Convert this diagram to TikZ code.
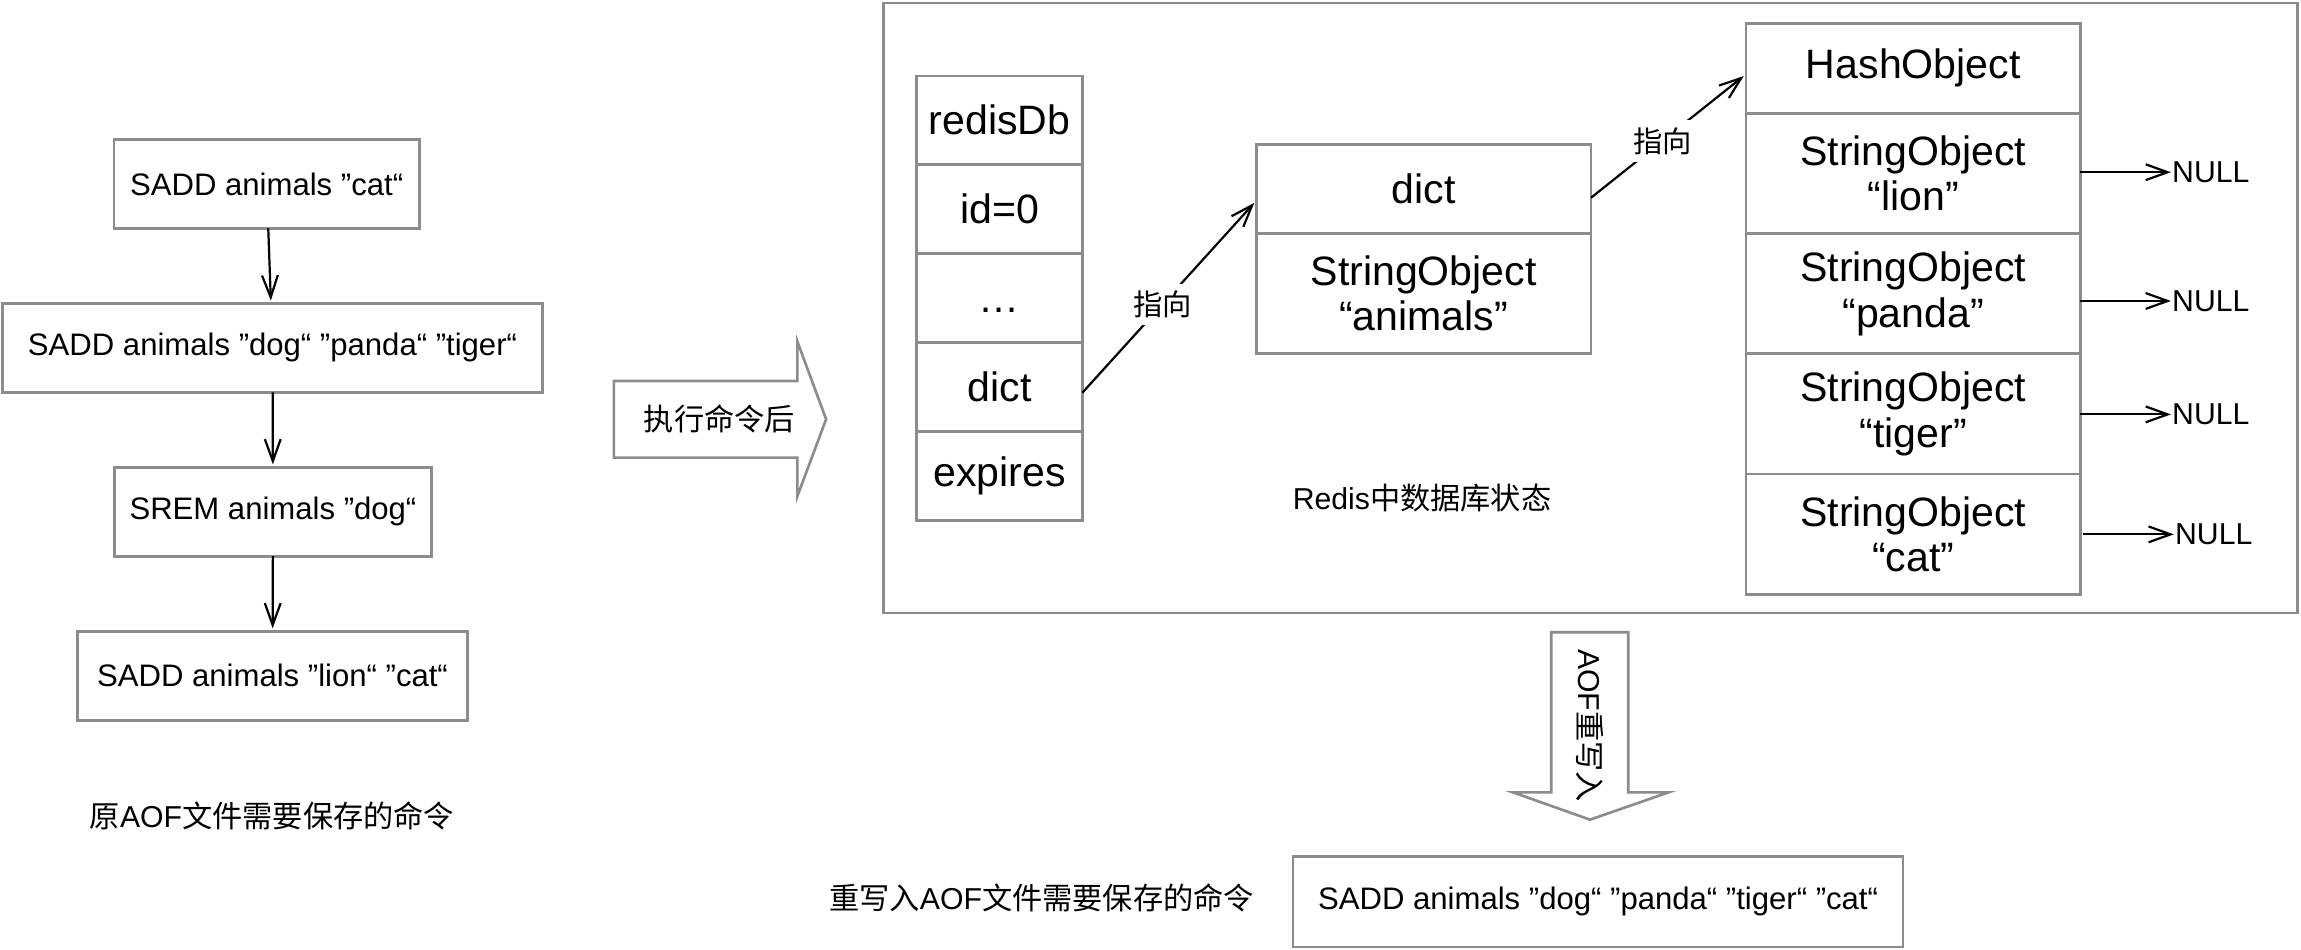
\documentclass[tikz,border=0pt]{standalone}
\usepackage{fontspec}
\setmainfont{Liberation Sans}
\newfontfamily\cjk{Noto Sans CJK SC}
\usetikzlibrary{arrows.meta}
\definecolor{boxgray}{RGB}{140,140,140}
\tikzset{every picture/.style={line width=0.9pt},
  cmdbox/.style={draw=boxgray, inner sep=0pt, outer sep=0pt, minimum height=30.3pt, font=\fontsize{10.6}{12}\selectfont},
  cellbox/.style={draw=boxgray, inner sep=0pt, outer sep=0pt, align=center, font=\fontsize{14}{15.5}\selectfont},
  caption/.style={inner sep=0pt, font=\fontsize{10.3}{12}\selectfont},
  ptr/.style={-{Straight Barb[length=7.5pt,width=5.4pt]}, line width=0.75pt, black},
  fatarrow/.style={draw=boxgray, fill=white}}

\begin{document}
\begin{tikzpicture}[x=0.5pt,y=0.5pt,yscale=-1,xscale=1]
\useasboundingbox (0,0) rectangle (1568.7,647);

%Shape: Rectangle (original AOF commands)
\node (cmdA) [cmdbox, minimum width=104pt] at (181.8,125.4) {SADD animals ”cat“};
\node (cmdB) [cmdbox, minimum width=184pt] at (185.8,237.2) {SADD animals ”dog“ ”panda“ ”tiger“};
\node (cmdC) [cmdbox, minimum width=108pt] at (186.1,348.9) {SREM animals ”dog“};
\node (cmdD) [cmdbox, minimum width=133pt] at (185.8,460.7) {SADD animals ”lion“ ”cat“};
%Straight Lines
\draw [ptr, shorten >=1pt] (cmdA) -- (cmdB);
\draw [ptr, shorten >=1pt] (cmdB) -- (cmdC);
\draw [ptr, shorten >=1pt] (cmdC) -- (cmdD);
% Text Node
\node (oldCap) [caption] at (185.4,556.5) {{\cjk 原}AOF{\cjk 文件需要保存的命令}};

%Shape: Right Arrow
\draw [fatarrow] (418.5,259.7) -- (543.6,259.7) -- (543.6,232.8) -- (563.2,285.8) -- (543.6,338.3) -- (543.6,312) -- (418.5,312) -- cycle;
% Text Node
\node (afterRun) [caption] at (490.4,285.8) {\cjk 执行命令后};

%Shape: Rectangle (database state frame)
\draw [draw=boxgray] (602.3,2) rectangle (1566.3,418);

%Shape: redisDb cells
\node (rdHead) [cellbox, minimum width=56.5pt, minimum height=30.3pt] at (681.4,82) {redisDb};
\node (rdId) [cellbox, minimum width=56.5pt, minimum height=30.3pt] at (681.4,142.6) {id=0};
\node (rdDots) [cellbox, minimum width=56.5pt, minimum height=30.3pt] at (681.4,203.2) {\vphantom{id}…};
\node (rdDict) [cellbox, minimum width=56.5pt, minimum height=30.3pt] at (681.4,263.8) {dict};
\node (rdExp) [cellbox, minimum width=56.5pt, minimum height=30.3pt] at (681.4,324.4) {expires};

%Shape: dict cells
\node (dictKey) [cellbox, minimum width=114.1pt, minimum height=30.2pt] at (970.6,128.8) {dict};
\node (dictVal) [cellbox, minimum width=114.1pt, minimum height=40.95pt] at (970.6,199.95) {StringObject\\“animals”};

%Shape: HashObject cells
\node (hashHead) [cellbox, minimum width=114pt, minimum height=30.6pt] at (1304.35,46.6) {HashObject};
\node (strLion) [cellbox, minimum width=114pt, minimum height=41pt] at (1304.35,118.2) {StringObject\\“lion”};
\node (strPanda) [cellbox, minimum width=114pt, minimum height=41pt] at (1304.35,200.2) {StringObject\\“panda”};
\node (strTiger) [cellbox, minimum width=114pt, minimum height=41pt] at (1304.35,282.2) {StringObject\\“tiger”};
\node (strCat) [cellbox, minimum width=114pt, minimum height=41pt] at (1304.35,364.2) {StringObject\\“cat”};

% Text Node
\node (nullA) [caption, anchor=west] at (1480,117.4) {NULL};
\node (nullB) [caption, anchor=west] at (1480,205.2) {NULL};
\node (nullC) [caption, anchor=west] at (1480,282.5) {NULL};
\node (nullD) [caption, anchor=west] at (1482,364.3) {NULL};
%Straight Lines
\draw [ptr] (strLion.east |- nullA.west) -- (nullA.west);
\draw [ptr] (strPanda.east |- nullB.west) -- (nullB.west);
\draw [ptr] (strTiger.east |- nullC.west) -- (nullC.west);
\draw [ptr] ([xshift=1pt]strCat.east |- nullD.west) -- (nullD.west);

%Straight Lines (pointers)
\draw [ptr, shorten >=1pt] (rdDict.-4) -- node [pos=0.46, fill=white, inner sep=2.5pt, font=\cjk\fontsize{10}{12}\selectfont] (ptrA) {指向} (dictKey.184);
\draw [ptr, shorten >=1pt] (dictKey.-3) -- node [pos=0.46, fill=white, inner sep=2.5pt, font=\cjk\fontsize{10}{12}\selectfont] (ptrB) {指向} (hashHead.182);

% Text Node
\node (stateCap) [caption] at (969.5,339.4) {Redis{\cjk 中数据库状态}};

%Shape: Down Arrow
\draw [fatarrow] (1057.5,431) -- (1110,431) -- (1110,540.2) -- (1137.5,540.2) -- (1084,558.8) -- (1031.5,540.2) -- (1057.5,540.2) -- cycle;
% Text Node
\node (rewrite) [caption, rotate=-90] at (1084,494.6) {AOF{\cjk 重写入}};

%Shape: Rectangle (rewritten command)
\node (newCmd) [cmdbox, minimum width=207.9pt, minimum height=30.9pt] at (1089.5,614.7) {SADD animals ”dog“ ”panda“ ”tiger“ ”cat“};
% Text Node
\node (newCap) [caption] at (710.1,612.2) {{\cjk 重写入}AOF{\cjk 文件需要保存的命令}};

\end{tikzpicture}
\end{document}
